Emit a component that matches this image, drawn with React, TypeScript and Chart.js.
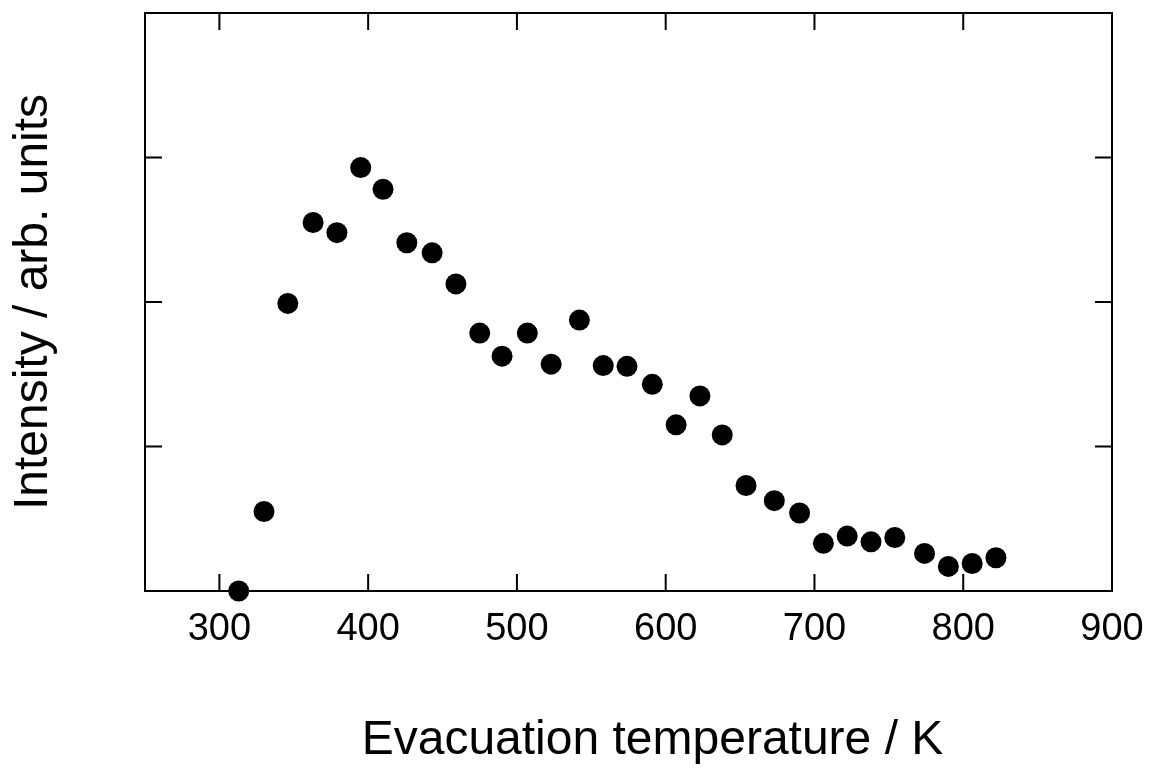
import React, { useEffect, useRef } from "react";
import { Chart, registerables } from "chart.js";

Chart.register(...registerables);

const temperatures = [313, 330, 346, 363, 379, 395, 410, 426, 443, 459, 475, 490, 507, 523, 542, 558, 574, 591, 607, 623, 638, 654, 673, 690, 706, 722, 738, 754, 774, 790, 806, 822];
const intensities = [0.0, 0.55, 1.99, 2.55, 2.48, 2.93, 2.78, 2.41, 2.34, 2.125, 1.785, 1.625, 1.785, 1.57, 1.875, 1.56, 1.555, 1.43, 1.15, 1.35, 1.08, 0.73, 0.625, 0.54, 0.33, 0.38, 0.34, 0.37, 0.26, 0.17, 0.19, 0.23];
const xTickValues = [300, 400, 500, 600, 700, 800, 900];
const yTickValues = [1, 2, 3];
const xTitle = "Evacuation temperature / K";
const yTitle = "Intensity / arb. units";

const FONT = "'Liberation Sans', Arial, Helvetica, sans-serif";

const framePlugin = {
  id: "frame",
  beforeDatasetsDraw(chart: any) {
    const { ctx, chartArea } = chart;
    const { left, right, top, bottom } = chartArea;
    const xs = chart.scales.x;
    const ys = chart.scales.y;
    const tl = 17;
    ctx.save();
    ctx.strokeStyle = "#000";
    ctx.lineWidth = 2;
    ctx.strokeRect(left, top, right - left, bottom - top);
    ctx.beginPath();
    xTickValues.forEach((v) => {
      const px = xs.getPixelForValue(v);
      if (px <= left + 1 || px >= right - 1) return;
      ctx.moveTo(px, bottom);
      ctx.lineTo(px, bottom - tl);
      ctx.moveTo(px, top);
      ctx.lineTo(px, top + tl);
    });
    yTickValues.forEach((v) => {
      const py = ys.getPixelForValue(v);
      ctx.moveTo(left, py);
      ctx.lineTo(left + tl, py);
      ctx.moveTo(right, py);
      ctx.lineTo(right - tl, py);
    });
    ctx.stroke();
    ctx.restore();
  },
  afterDraw(chart: any) {
    const { ctx, chartArea } = chart;
    ctx.save();
    ctx.fillStyle = "#000";
    ctx.font = `48px ${FONT}`;
    ctx.textAlign = "center";
    ctx.textBaseline = "middle";
    const cx = (chartArea.left + chartArea.right) / 2 + 24;
    ctx.fillText(xTitle, cx, 741);
    ctx.restore();
  },
};

export default function App() {
  const ref = useRef<HTMLCanvasElement | null>(null);
  useEffect(() => {
    document.body.style.margin = "0";
    const canvas = ref.current;
    if (!canvas) return;
    const chart = new Chart(canvas, {
      type: "scatter",
      data: {
        datasets: [
          {
            data: temperatures.map((t, i) => ({ x: t, y: intensities[i] })),
            backgroundColor: "#000",
            borderColor: "#000",
            pointRadius: 10.5,
            pointHoverRadius: 10.5,
            borderWidth: 0,
            clip: false as any,
          },
        ],
      },
      options: {
        animation: false,
        responsive: false,
        events: [],
        layout: { padding: { top: 13, right: 39, bottom: 0, left: 0 } },
        plugins: { legend: { display: false }, tooltip: { enabled: false } },
        scales: {
          x: {
            type: "linear",
            min: 250,
            max: 900,
            afterBuildTicks: (scale: any) => {
              scale.ticks = xTickValues.map((v) => ({ value: v }));
            },
            afterFit: (scale: any) => {
              scale.height = 183;
              scale.paddingLeft = 0;
              scale.paddingRight = 0;
            },
            grid: { display: false, drawTicks: false },
            border: { display: false },
            ticks: {
              color: "#000",
              font: { family: FONT, size: 38 },
              padding: 16,
              maxRotation: 0,
              autoSkip: false,
            },
            title: { display: false },
          },
          y: {
            type: "linear",
            min: 0,
            max: 4,
            afterBuildTicks: (scale: any) => {
              scale.ticks = yTickValues.map((v) => ({ value: v }));
            },
            afterFit: (scale: any) => {
              scale.width = 145;
              scale.paddingTop = 0;
              scale.paddingBottom = 0;
            },
            grid: { display: false, drawTicks: false },
            border: { display: false },
            ticks: { display: false },
            title: {
              display: true,
              text: yTitle,
              color: "#000",
              font: { family: FONT, size: 48 },
              padding: { top: 5, bottom: 0 },
            },
          },
        },
      },
      plugins: [framePlugin],
    });
    return () => chart.destroy();
  }, []);
  return (
    <div style={{ position: "absolute", left: 0, top: 0, width: 1151, height: 774, background: "#fff" }}>
      <canvas ref={ref} width={1151} height={774} style={{ display: "block" }} />
    </div>
  );
}
